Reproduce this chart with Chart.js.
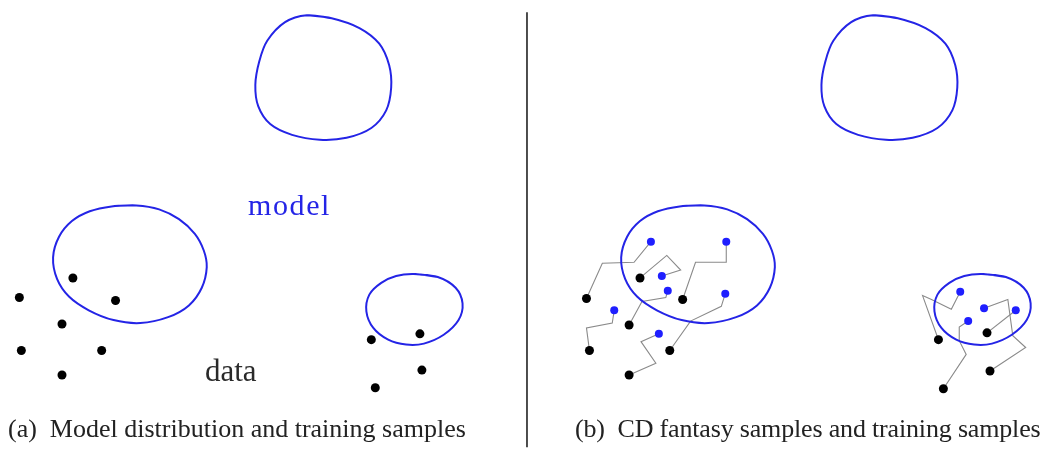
<!DOCTYPE html>
<html>
<head>
<meta charset="utf-8">
<script src="https://cdn.jsdelivr.net/npm/chart.js@4/dist/chart.umd.min.js"></script>
<style>
  html, body { margin: 0; padding: 0; background: #ffffff; }
  #wrap { position: relative; width: 1051px; height: 452px; overflow: hidden; background: #fff; }
  #c { position: absolute; left: 0; top: 0; }
  .t { position: absolute; font-family: "Liberation Serif", "DejaVu Serif", serif; line-height: 1; white-space: pre; }
  .cap { font-size: 26px; color: #222; }
</style>
</head>
<body>
<div id="wrap">
  <canvas id="c" width="1051" height="452"></canvas>
  <div class="t" style="left:248px; top:190px; font-size:30px; letter-spacing:1.6px; color:#2424e6;">model</div>
  <div class="t" style="left:205px; top:355px; font-size:31px; color:#2a2a2a;">data</div>
  <div class="t cap" style="left:8px; top:416px;">(a)  Model distribution and training samples</div>
  <div class="t cap" style="left:575px; top:416px; letter-spacing:-0.17px;">(b)  CD fantasy samples and training samples</div>
</div>
<script>
// ---- data (in picture units: x 0..1051, y 0..452 downward) ----
const modelTopA = [[305,11],[330,14],[358,24],[378,40],[388,62],[390,85],[385,108],[370,126],[345,136],[318,138],[290,133],[268,122],[256,104],[253,82],[257,58],[265,37],[283,18]];
const modelMidA = [[108,206],[133,205],[156,209],[176,219],[192,234],[201,251],[204,268],[199,289],[186,307],[165,319],[137,325],[110,322],[85,312],[65,298],[53,280],[49,258],[55,237],[68,221],[86,211]];
const modelSmallA = [[413,275],[437,278],[455,289],[462,305],[458,322],[443,337],[423,346],[405,347],[387,342],[372,330],[365,313],[368,296],[380,284],[395,277]];
const dataA = [[69,279],[112,302],[15,299],[58,326],[17,353],[98,353],[58,378],[370,342],[419,336],[421,373],[374,391]];

const modelTopB = [[876,11],[901,14],[929,24],[949,40],[959,62],[961,85],[956,108],[941,126],[916,136],[889,138],[861,133],[839,122],[827,104],[824,82],[828,58],[836,37],[854,18]];
const modelMidB = [[681,206],[706,205],[729,209],[749,219],[765,234],[774,251],[777,268],[772,289],[759,307],[738,319],[710,325],[683,322],[658,312],[638,298],[626,280],[622,258],[628,237],[641,221],[659,211]];
const modelSmallB = [[986,275],[1010,278],[1028,289],[1035,305],[1031,322],[1016,337],[996,346],[978,347],[960,342],[945,330],[938,313],[941,296],[953,284],[968,277]];
const dataB = [[641,279],[684,301],[587,300],[630,327],[590,353],[671,353],[630,378],[942,342],[991,335],[994,374],[947,392]];
const fantasyB = [[652,242],[728,242],[663,277],[669,292],[727,295],[615,312],[660,336],[964,293],[988,310],[1020,312],[972,323]];

const chain1 = [[587,300],[603,264],[635,263],[652,242]];
const chain2 = [[641,279],[668,256],[682,271],[663,277]];
const chain3 = [[684,301],[697,263],[728,263],[728,242]];
const chain4 = [[630,327],[643,303],[667,299],[669,292]];
const chain5 = [[590,353],[587,330],[613,325],[615,312]];
const chain6 = [[671,353],[692,323],[723,308],[727,295]];
const chain7 = [[630,378],[657,366],[642,344],[660,336]];
const chain8 = [[942,342],[926,297],[935,301],[955,311],[964,293]];
const chain9 = [[991,335],[1020,312]];
const chain10 = [[994,374],[1030,350],[1017,338],[1012,301],[988,310]];
const chain11 = [[947,392],[970,357],[963,343],[963,329],[972,323]];

const divider = [[527,8],[527,452]];

// ---- build datasets ----
const pts = a => a.map(p => ({x: p[0], y: p[1]}));
const closed = a => pts(a.concat([a[0], a[1]]));

const BLUE = '#2424e6';
const blob = (a) => ({ data: closed(a), showLine: true, borderColor: BLUE, borderWidth: 2, pointRadius: 0, tension: 0.35, fill: false, order: 3 });
const chain = (a) => ({ data: pts(a), showLine: true, borderColor: '#8a8a8a', borderWidth: 1.1, pointRadius: 0, tension: 0, fill: false, order: 4 });
const dots = (a, col, r) => ({ data: pts(a), showLine: false, pointRadius: r, pointBackgroundColor: col, pointBorderColor: col, pointBorderWidth: 0, order: 1 });

const datasets = [
  dots(dataA, '#000', 4.5),
  dots(dataB, '#000', 4.5),
  dots(fantasyB, '#1f1fff', 4),
  blob(modelTopA), blob(modelMidA), blob(modelSmallA),
  blob(modelTopB), blob(modelMidB), blob(modelSmallB),
  chain(chain1), chain(chain2), chain(chain3), chain(chain4), chain(chain5), chain(chain6),
  chain(chain7), chain(chain8), chain(chain9), chain(chain10), chain(chain11),
  { data: pts(divider), showLine: true, borderColor: '#222', borderWidth: 1.6, pointRadius: 0, order: 5 }
];

new Chart(document.getElementById('c'), {
  type: 'scatter',
  data: { datasets },
  options: {
    responsive: false,
    animation: false,
    events: [],
    layout: { padding: 0 },
    plugins: { legend: { display: false }, tooltip: { enabled: false }, title: { display: false } },
    scales: {
      x: { type: 'linear', min: 0, max: 1051, display: false },
      y: { type: 'linear', min: 0, max: 452, reverse: true, display: false }
    }
  }
});
</script>
</body>
</html>
